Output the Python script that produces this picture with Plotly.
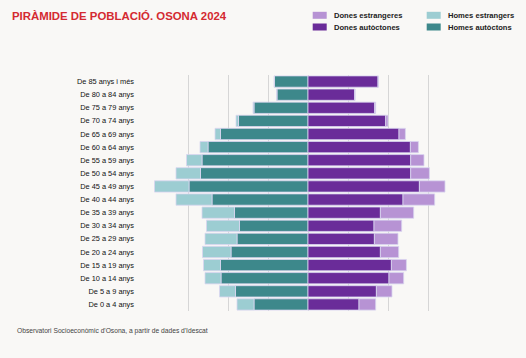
import plotly.graph_objects as go

ages = ["De 0 a 4 anys", "De 5 a 9 anys", "De 10 a 14 anys", "De 15 a 19 anys",
        "De 20 a 24 anys", "De 25 a 29 anys", "De 30 a 34 anys", "De 35 a 39 anys",
        "De 40 a 44 anys", "De 45 a 49 anys", "De 50 a 54 anys", "De 55 a 59 anys",
        "De 60 a 64 anys", "De 65 a 69 anys", "De 70 a 74 anys", "De 75 a 79 anys",
        "De 80 a 84 anys", "De 85 anys i més"]

homes_autoctons = [2700, 3625, 4350, 4375, 3850, 3550, 3425, 3675, 4800, 5950,
                   5375, 5300, 5000, 4375, 3475, 2700, 1550, 1675]
homes_estrangers = [850, 800, 800, 850, 1425, 1600, 1650, 1625, 1800, 1725,
                    1225, 775, 400, 275, 125, 50, 20, 25]
dones_autoctones = [2550, 3420, 4050, 4170, 3620, 3320, 3300, 3620, 4750, 5570,
                    5135, 5135, 5120, 4550, 3885, 3335, 2335, 3500]
dones_estrangeres = [835, 780, 735, 750, 915, 1180, 1385, 1665, 1585, 1280,
                     935, 665, 400, 320, 115, 50, 20, 20]

grid_vals = [-8000, -6000, -4000, -2000, 0, 2000, 4000, 6000]

C_HA = "#3d888b"
C_HE = "#9ccdd2"
C_DA = "#6a2c99"
C_DE = "#b793d4"
BG = "#f9f8f6"

W, H = 526, 358
ML, MR, MT, MB = 147.3, 57.7, 75, 47
PW, PH = W - ML - MR, H - MT - MB

def px(x):
    return (x - ML) / PW

def py(y):
    return (H - MB - y) / PH

line = dict(width=0.8, color="#d9d6f0")

fig = go.Figure()
fig.add_trace(go.Bar(y=ages, x=[-v for v in homes_autoctons], orientation="h",
                     name="Homes autòctons", marker=dict(color=C_HA, line=line)))
fig.add_trace(go.Bar(y=ages, x=[-v for v in homes_estrangers], orientation="h",
                     name="Homes estrangers", marker=dict(color=C_HE, line=line)))
fig.add_trace(go.Bar(y=ages, x=dones_autoctones, orientation="h",
                     name="Dones autòctones", marker=dict(color=C_DA, line=line)))
fig.add_trace(go.Bar(y=ages, x=dones_estrangeres, orientation="h",
                     name="Dones estrangeres", marker=dict(color=C_DE, line=line)))

fig.update_layout(
    width=W, height=H,
    margin=dict(l=ML, r=MR, t=MT, b=MB),
    paper_bgcolor=BG, plot_bgcolor=BG,
    barmode="relative", bargap=0.14,
    showlegend=False,
    font=dict(family="Liberation Sans, Arial, sans-serif", color="#222"),
    title=dict(text="<b>PIRÀMIDE DE POBLACIÓ. OSONA 2024</b>",
               font=dict(size=11.4, color="#d42a31", family="Liberation Sans, Arial"),
               x=12 / W, xanchor="left", xref="container",
               y=1 - 15.8 / H, yanchor="middle", yref="container"),
    xaxis=dict(range=[-8050, 8000], tickvals=grid_vals, showticklabels=False,
               showgrid=True, gridcolor="#d6d6d6", gridwidth=1, zeroline=False,
               fixedrange=True),
    yaxis=dict(categoryorder="array", categoryarray=ages, showgrid=False,
               ticks="", ticklabelstandoff=12, zeroline=False,
               tickfont=dict(size=7.4, color="#111")),
)

# legend (manual, two columns)
legend_items = [("Dones estrangeres", C_DE, 313, 15.3),
                ("Dones autòctones", C_DA, 313, 27),
                ("Homes estrangers", C_HE, 427, 15.3),
                ("Homes autòctons", C_HA, 427, 27)]
for name, col, x0, yc in legend_items:
    fig.add_shape(type="rect", xref="paper", yref="paper",
                  x0=px(x0), x1=px(x0 + 14), y0=py(yc - 3.5), y1=py(yc + 3.5),
                  fillcolor=col, line=dict(width=0))
    fig.add_annotation(text="<b>" + name + "</b>", xref="paper", yref="paper",
                       x=px(x0 + 19), y=py(yc), xanchor="left", yanchor="middle",
                       showarrow=False, font=dict(size=7.6, color="#222"))

fig.add_annotation(text="Observatori Socioeconòmic d'Osona, a partir de dades d'Idescat",
                   xref="paper", yref="paper", x=px(15), y=py(331),
                   xanchor="left", yanchor="middle", showarrow=False,
                   font=dict(size=6.7, color="#444"))

fig.write_html("out.html", config={"displayModeBar": False},
               post_script="document.body.style.margin='0';document.body.style.background='" + BG + "';")
